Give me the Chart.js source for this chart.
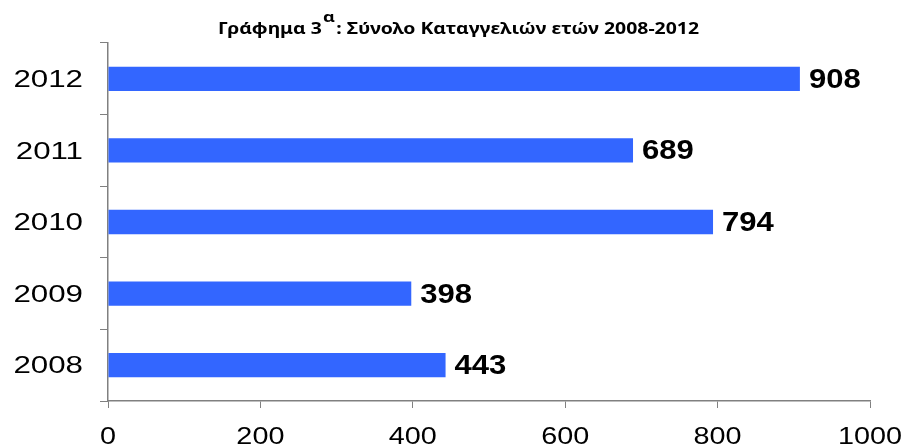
<!DOCTYPE html>
<html>
<head>
<meta charset="utf-8">
<script src="https://cdn.jsdelivr.net/npm/chart.js@4/dist/chart.umd.min.js"></script>
<style>
  html, body { margin: 0; padding: 0; background: #ffffff; }
  #wrap { width: 908px; height: 447px; }
</style>
</head>
<body>
<div id="wrap"><canvas id="c" width="908" height="447"></canvas></div>
<script>
// ---- data ----
const categories = ['2008', '2009', '2010', '2011', '2012'];
const complaints = [443, 398, 794, 689, 908];
const xTickValues = [0, 200, 400, 600, 800, 1000];
const titleMain = 'Γράφημα 3';
const titleSup = 'α';
const titleRest = ': Σύνολο Καταγγελιών ετών 2008-2012';

function stretchedText(ctx, text, x, y, sx, align) {
  ctx.save();
  ctx.translate(x, y);
  ctx.scale(sx, 1);
  ctx.textAlign = align;
  ctx.fillText(text, 0, 0);
  ctx.restore();
}

const labelsPlugin = {
  id: 'customLabels',
  afterDraw(chart) {
    const ctx = chart.ctx;
    const xs = chart.scales.x, ys = chart.scales.y;
    ctx.save();
    ctx.fillStyle = '#000000';
    ctx.textBaseline = 'alphabetic';
    // y tick labels
    ctx.font = '23px "Liberation Sans", Arial, sans-serif';
    categories.forEach((c, i) => {
      const y = ys.getPixelForValue(i);
      stretchedText(ctx, c, 83, y + 8.2, 1.36, 'right');
    });
    // x tick labels
    ctx.font = '24px "Liberation Sans", Arial, sans-serif';
    xTickValues.forEach(v => {
      const x = xs.getPixelForValue(v);
      stretchedText(ctx, String(v), x, 444, 1.2, 'center');
    });
    // value labels
    ctx.font = 'bold 27px "Liberation Sans", Arial, sans-serif';
    const meta = chart.getDatasetMeta(0);
    meta.data.forEach((bar, i) => {
      stretchedText(ctx, String(complaints[i]), bar.x + 9, bar.y + 9, 1.15, 'left');
    });
    // title
    const mainFont = 'bold 16px "Noto Sans", "DejaVu Sans", sans-serif';
    const supFont = 'bold 15px "Noto Sans", "DejaVu Sans", sans-serif';
    ctx.font = mainFont;
    const w1 = ctx.measureText(titleMain).width;
    const w3 = ctx.measureText(titleRest).width;
    ctx.font = supFont;
    const w2 = ctx.measureText(titleSup).width;
    const total = w1 + w2 + w3 + 2;
    const sx = 481 / total;
    ctx.save();
    ctx.translate(218, 34);
    ctx.scale(sx, 1);
    ctx.textAlign = 'left';
    ctx.font = mainFont;
    ctx.fillText(titleMain, 0, 0);
    ctx.font = supFont;
    ctx.fillText(titleSup, w1 + 1, -12);
    ctx.font = mainFont;
    ctx.fillText(titleRest, w1 + w2 + 2, 0);
    ctx.restore();
    ctx.restore();
  }
};

function build() {
  new Chart(document.getElementById('c'), {
    type: 'bar',
    data: {
      labels: categories,
      datasets: [{
        data: complaints,
        backgroundColor: '#3366FF',
        borderWidth: 0,
        barPercentage: 0.34,
        categoryPercentage: 1
      }]
    },
    options: {
      indexAxis: 'y',
      responsive: false,
      animation: false,
      layout: { padding: { top: 43, right: 38, left: 0, bottom: 0 } },
      plugins: { legend: { display: false }, title: { display: false }, tooltip: { enabled: false } },
      scales: {
        x: {
          min: 0, max: 1000,
          ticks: { stepSize: 200, display: false },
          grid: { drawOnChartArea: false, drawTicks: true, tickLength: 7, color: '#808080', tickColor: '#808080' },
          border: { display: true, color: '#808080', width: 1.5 },
          afterFit(s) { s.height = 46; }
        },
        y: {
          reverse: true,
          ticks: { display: false },
          grid: { drawOnChartArea: false, drawTicks: true, tickLength: 8, color: '#808080', tickColor: '#808080' },
          border: { display: true, color: '#808080', width: 1.5 },
          afterFit(s) { s.width = 108; }
        }
      }
    },
    plugins: [labelsPlugin]
  });
}

if (document.fonts && document.fonts.load) {
  Promise.all([
    document.fonts.load('bold 16px "Noto Sans"', 'Γράφημα'),
    document.fonts.load('23px "Liberation Sans"'),
    document.fonts.load('bold 27px "Liberation Sans"')
  ]).then(build, build);
} else {
  build();
}
</script>
</body>
</html>
